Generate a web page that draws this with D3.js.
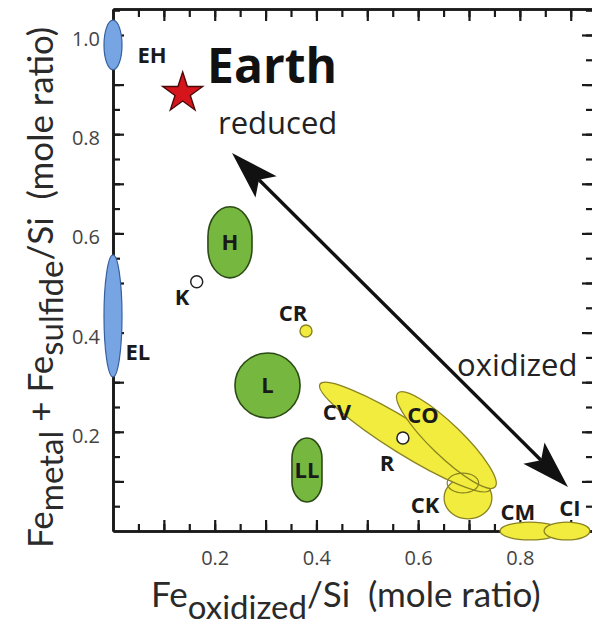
<!DOCTYPE html>
<html>
<head>
<meta charset="utf-8">
<script src="https://cdn.jsdelivr.net/npm/d3@7"></script>
<style>
  html, body { margin: 0; padding: 0; background: #fff; }
  svg { display: block; }
</style>
</head>
<body>
<svg id="chart" width="592" height="627"></svg>
<script>
// ---- data (mole ratios) ----
const xTickLabels = [0.2, 0.4, 0.6, 0.8];
const yTickLabels = [0.2, 0.4, 0.6, 0.8, 1.0];

// Enstatite chondrites: centre and half-range of each field
const enstatite = [
  { name: "EH", x: 0.0, y: 0.980, dx: 0.0177, dy: 0.050 },
  { name: "EL", x: 0.0, y: 0.4335, dx: 0.0177, dy: 0.123 }
];

// Ordinary chondrites
const ordinary = [
  { name: "H",  x: 0.230,  y: 0.582, dx: 0.0433, dy: 0.0716 },
  { name: "L",  x: 0.3038, y: 0.2933, dx: 0.064, dy: 0.0655 },
  { name: "LL", x: 0.3814, y: 0.123, dx: 0.0295, dy: 0.0645 }
];

// Carbonaceous chondrites: elongated fields given by their two ends and half-width
const carbonaceousTrends = [
  { name: "CV", x1: 0.407, y1: 0.296, x2: 0.741, y2: 0.0827, hw: 0.033 },
  { name: "CO", x1: 0.560, y1: 0.278, x2: 0.751, y2: 0.0887, hw: 0.0315 }
];
// Carbonaceous chondrites: compact fields
const carbonaceousFields = [
  { name: "CK", x: 0.698, y: 0.0665, dx: 0.047, dy: 0.042 },
  { name: "CM", x: 0.820, y: 0.0,    dx: 0.059, dy: 0.018 },
  { name: "CI", x: 0.8926, y: 0.0,   dx: 0.045, dy: 0.018 }
];
const ckUpperLobe = { x: 0.688, y: 0.0968, dx: 0.031, dy: 0.020 };

// Single meteorite groups
const openPoints = [
  { name: "K", x: 0.1646, y: 0.5026 },
  { name: "R", x: 0.570,  y: 0.1875 }
];
const crPoint = { name: "CR", x: 0.3795, y: 0.4032 };
const earth = { name: "Earth", x: 0.137, y: 0.883 };

// Redox trend arrow (both ends)
const redoxArrow = { x1: 0.234, y1: 0.762, x2: 0.8946, y2: 0.0887 };

// Group labels, anchored in data coordinates
const groupLabels = [
  { text: "EH", x: 0.0767, y: 0.960 },
  { text: "EL", x: 0.049,  y: 0.361 },
  { text: "K",  x: 0.1357, y: 0.4718 },
  { text: "CR", x: 0.354,  y: 0.4395 },
  { text: "H",  x: 0.230,  y: 0.582 },
  { text: "L",  x: 0.3038, y: 0.2933 },
  { text: "LL", x: 0.3814, y: 0.123 },
  { text: "CV", x: 0.4404, y: 0.240 },
  { text: "CO", x: 0.6095, y: 0.234 },
  { text: "R",  x: 0.5387, y: 0.137 },
  { text: "CK", x: 0.6134, y: 0.0524 },
  { text: "CM", x: 0.796,  y: 0.038 },
  { text: "CI", x: 0.8986, y: 0.0464 }
];

// ---- scales ----
const svg = d3.select("#chart");
const x = d3.scaleLinear().domain([0, 0.9438]).range([113, 593]);
const y = d3.scaleLinear().domain([0, 1.0524]).range([531, 9]);

const xMinor = d3.range(1, 19).map(i => +(i * 0.05).toFixed(2));
const xMajor = d3.range(1, 10).map(i => +(i * 0.1).toFixed(1));
const yMinor = d3.range(1, 22).map(i => +(i * 0.05).toFixed(2));
const yMajor = d3.range(1, 11).map(i => +(i * 0.1).toFixed(1));
const fmt = d3.format(".1f");

const AXIS = "#1a1a1a";

function styleAxis(g) {
  g.select(".domain").attr("stroke", AXIS).attr("stroke-width", 2.6);
  g.selectAll(".tick line").attr("stroke", AXIS).attr("stroke-width", 2.2);
  g.selectAll(".tick text")
    .attr("fill", "#444")
    .style("font-family", "'Open Sans', sans-serif")
    .style("font-size", "20px");
}

// ---- axes (ticks point inward) ----
const axes = svg.append("g");

// bottom
axes.append("g").attr("transform", `translate(0,${y(0)})`)
  .call(d3.axisBottom(x).tickValues(xMinor).tickSize(-7).tickSizeOuter(0).tickFormat(""))
  .call(styleAxis);
axes.append("g").attr("transform", `translate(0,${y(0)})`)
  .call(d3.axisBottom(x).tickValues(xMajor).tickSize(-11).tickSizeOuter(0).tickPadding(20)
    .tickFormat(d => xTickLabels.includes(d) ? fmt(d) : ""))
  .call(styleAxis);

// top
axes.append("g").attr("transform", `translate(0,${y.range()[1]})`)
  .call(d3.axisTop(x).tickValues(xMinor).tickSize(-8).tickSizeOuter(0).tickFormat(""))
  .call(styleAxis);
axes.append("g").attr("transform", `translate(0,${y.range()[1]})`)
  .call(d3.axisTop(x).tickValues(xMajor).tickSize(-12).tickSizeOuter(0).tickFormat(""))
  .call(styleAxis);

// left
axes.append("g").attr("transform", `translate(${x(0)},0)`)
  .call(d3.axisLeft(y).tickValues(yMinor).tickSize(-7).tickSizeOuter(0).tickFormat(""))
  .call(styleAxis);
const leftMajor = axes.append("g").attr("transform", `translate(${x(0)},0)`)
  .call(d3.axisLeft(y).tickValues(yMajor).tickSize(-11).tickSizeOuter(0).tickPadding(13)
    .tickFormat(d => yTickLabels.includes(d) ? fmt(d) : ""))
  .call(styleAxis);
leftMajor.selectAll(".tick text").attr("dy", "0.52em");

// right
axes.append("g").attr("transform", `translate(${x.range()[1]},0)`)
  .call(d3.axisRight(y).tickValues(yMinor).tickSize(-7).tickSizeOuter(0).tickFormat(""))
  .call(styleAxis);
axes.append("g").attr("transform", `translate(${x.range()[1]},0)`)
  .call(d3.axisRight(y).tickValues(yMajor).tickSize(-11).tickSizeOuter(0).tickFormat(""))
  .call(styleAxis);

// ---- fields ----
const kx = x(1) - x(0);        // px per unit along x
const ky = y(0) - y(1);        // px per unit along y

const BLUE = { fill: "#77a4e3", stroke: "#36609f" };
const GREEN = { fill: "#76b83f", stroke: "#2c4a15" };
const YELLOW = { fill: "#f1ec3d", stroke: "#8a8320" };

const fields = svg.append("g");

// enstatite
fields.selectAll("ellipse.en").data(enstatite).join("ellipse")
  .attr("class", "en")
  .attr("cx", d => x(d.x)).attr("cy", d => y(d.y))
  .attr("rx", d => d.dx * kx).attr("ry", d => d.dy * ky)
  .attr("fill", BLUE.fill).attr("stroke", BLUE.stroke).attr("stroke-width", 1.2);

// ordinary (rounded fields)
fields.selectAll("rect.oc").data(ordinary).join("rect")
  .attr("class", "oc")
  .attr("x", d => x(d.x - d.dx)).attr("y", d => y(d.y + d.dy))
  .attr("width", d => 2 * d.dx * kx).attr("height", d => 2 * d.dy * ky)
  .attr("rx", d => d.dx * kx)
  .attr("ry", d => Math.min(d.dy * ky, d.dx * kx * 1.35))
  .attr("fill", GREEN.fill).attr("stroke", GREEN.stroke).attr("stroke-width", 1.6);

// carbonaceous: CK body first, then the elongated CV / CO fields
const ck = carbonaceousFields.filter(d => d.name === "CK");
fields.selectAll("ellipse.ck").data(ck).join("ellipse")
  .attr("class", "ck")
  .attr("cx", d => x(d.x)).attr("cy", d => y(d.y))
  .attr("rx", d => d.dx * kx).attr("ry", d => d.dy * ky)
  .attr("fill", YELLOW.fill).attr("stroke", YELLOW.stroke).attr("stroke-width", 1.3);

fields.selectAll("ellipse.trend").data(carbonaceousTrends).join("ellipse")
  .attr("class", "trend")
  .each(function (d) {
    const px1 = x(d.x1), py1 = y(d.y1), px2 = x(d.x2), py2 = y(d.y2);
    const cx = (px1 + px2) / 2, cy = (py1 + py2) / 2;
    const len = Math.hypot(px2 - px1, py2 - py1);
    const ang = Math.atan2(py2 - py1, px2 - px1) * 180 / Math.PI;
    d3.select(this)
      .attr("cx", 0).attr("cy", 0)
      .attr("rx", len / 2).attr("ry", d.hw * kx)
      .attr("transform", `translate(${cx},${cy}) rotate(${ang})`);
  })
  .attr("fill", YELLOW.fill).attr("stroke", YELLOW.stroke).attr("stroke-width", 1.3);

fields.append("ellipse")
  .attr("cx", x(ckUpperLobe.x)).attr("cy", y(ckUpperLobe.y))
  .attr("rx", ckUpperLobe.dx * kx).attr("ry", ckUpperLobe.dy * ky)
  .attr("fill", "none").attr("stroke", YELLOW.stroke).attr("stroke-width", 1.2);

const cmci = carbonaceousFields.filter(d => d.name !== "CK");
fields.selectAll("ellipse.cmci").data(cmci).join("ellipse")
  .attr("class", "cmci")
  .attr("cx", d => x(d.x)).attr("cy", d => y(d.y))
  .attr("rx", d => d.dx * kx).attr("ry", d => d.dy * ky)
  .attr("fill", YELLOW.fill).attr("stroke", YELLOW.stroke).attr("stroke-width", 1.3);

// CR point
fields.append("circle")
  .attr("cx", x(crPoint.x)).attr("cy", y(crPoint.y)).attr("r", 6)
  .attr("fill", YELLOW.fill).attr("stroke", YELLOW.stroke).attr("stroke-width", 1.4);

// K and R points
fields.selectAll("circle.pt").data(openPoints).join("circle")
  .attr("class", "pt")
  .attr("cx", d => x(d.x)).attr("cy", d => y(d.y)).attr("r", 6)
  .attr("fill", "#fff").attr("stroke", "#222").attr("stroke-width", 1.5);

// Earth
svg.append("path")
  .attr("d", d3.symbol().type(d3.symbolStar).size(495)())
  .attr("transform", `translate(${x(earth.x)},${y(earth.y)})`)
  .attr("fill", "#d6141c").attr("stroke", "#4a0a0a").attr("stroke-width", 1.4);

// ---- redox arrow ----
(function drawArrow() {
  const p1 = [x(redoxArrow.x1), y(redoxArrow.y1)];
  const p2 = [x(redoxArrow.x2), y(redoxArrow.y2)];
  const L = Math.hypot(p2[0] - p1[0], p2[1] - p1[1]);
  const u = [(p2[0] - p1[0]) / L, (p2[1] - p1[1]) / L];
  const n = [-u[1], u[0]];
  const headLen = 48, headHalf = 15, notch = 38;
  const g = svg.append("g").attr("fill", "#111").attr("stroke", "none");
  g.append("line")
    .attr("x1", p1[0] + u[0] * notch).attr("y1", p1[1] + u[1] * notch)
    .attr("x2", p2[0] - u[0] * notch).attr("y2", p2[1] - u[1] * notch)
    .attr("stroke", "#111").attr("stroke-width", 3.4);
  function head(tip, dir) {
    const pts = [
      tip,
      [tip[0] + dir[0] * headLen + n[0] * headHalf, tip[1] + dir[1] * headLen + n[1] * headHalf],
      [tip[0] + dir[0] * notch, tip[1] + dir[1] * notch],
      [tip[0] + dir[0] * headLen - n[0] * headHalf, tip[1] + dir[1] * headLen - n[1] * headHalf]
    ];
    g.append("path").attr("d", d3.line()(pts) + "Z");
  }
  head(p1, u);
  head(p2, [-u[0], -u[1]]);
})();

// ---- text ----
const txt = svg.append("g").style("font-family", "'Open Sans', sans-serif");

txt.selectAll("text.grp").data(groupLabels).join("text")
  .attr("class", "grp")
  .attr("x", d => x(d.x)).attr("y", d => y(d.y))
  .attr("dy", "0.36em")
  .attr("text-anchor", "middle")
  .attr("font-weight", 700).attr("font-size", 22).attr("fill", "#1a1a1a")
  .text(d => d.text);

txt.append("text")
  .attr("x", 207).attr("y", 83)
  .attr("font-weight", 700).attr("font-size", 48).attr("fill", "#111")
  .text(earth.name);

txt.append("text")
  .attr("x", 218).attr("y", 134)
  .attr("font-size", 31).attr("fill", "#222")
  .text("reduced");

txt.append("text")
  .attr("x", 457).attr("y", 376)
  .attr("font-size", 31).attr("fill", "#222")
  .text("oxidized");

// axis titles
const titleFont = "Lato, 'Open Sans', sans-serif";
const xt = svg.append("text")
  .attr("x", 151).attr("y", 607)
  .style("font-family", titleFont).attr("font-size", 35).attr("fill", "#2a2a2a");
xt.append("tspan").text("Fe");
xt.append("tspan").attr("dy", 12).attr("font-size", 33).text("oxidized");
xt.append("tspan").attr("dy", -12).text("/Si\u00a0\u00a0(mole ratio)");

const yt = svg.append("text")
  .attr("transform", "translate(53,548) rotate(-90)")
  .style("font-family", titleFont).attr("font-size", 35).attr("fill", "#2a2a2a");
yt.append("tspan").text("Fe");
yt.append("tspan").attr("dy", 10).attr("font-size", 33).text("metal");
yt.append("tspan").attr("dy", -10).text(" + Fe");
yt.append("tspan").attr("dy", 10).attr("font-size", 33).text("sulfide");
yt.append("tspan").attr("dy", -10).text("/Si\u00a0\u00a0(mole ratio)");
</script>
</body>
</html>
